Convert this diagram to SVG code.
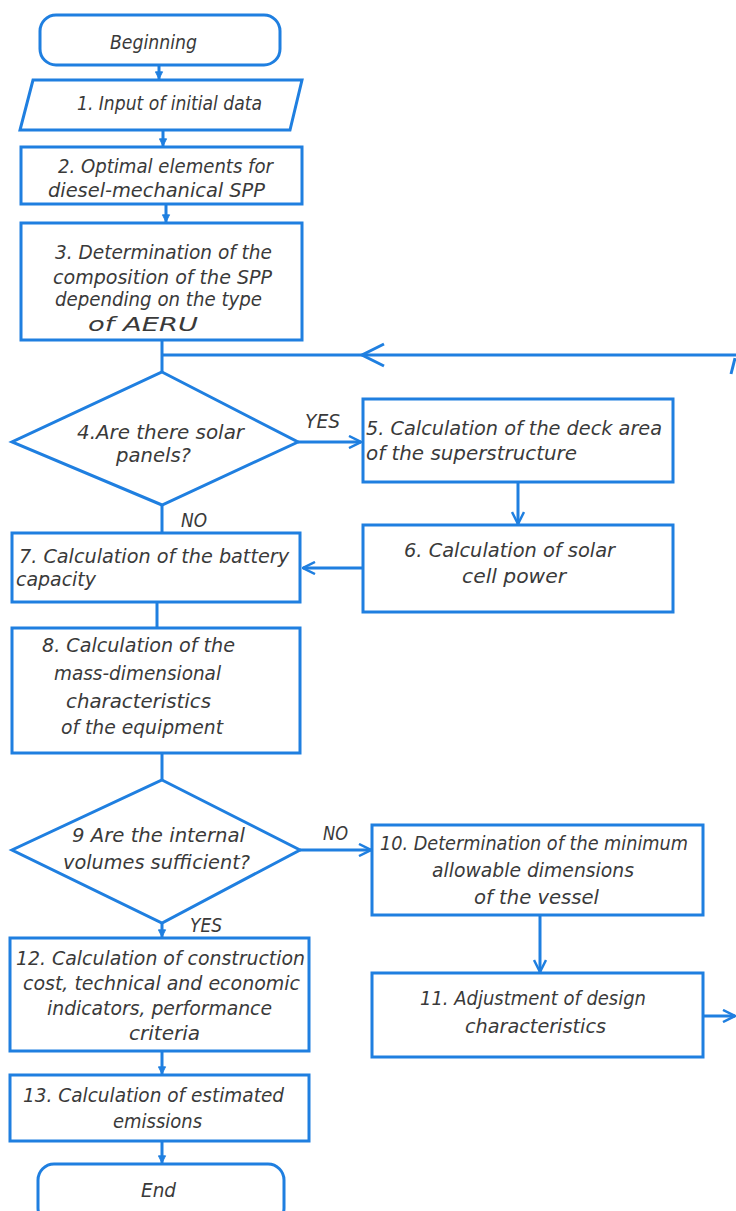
<svg xmlns="http://www.w3.org/2000/svg" width="736" height="1211" viewBox="0 0 736 1211">
<defs>
<style>
.n{fill:#fff;stroke:#1f7fe0;stroke-width:3}
.c{fill:none;stroke:#1f7fe0;stroke-width:3}
text{font-family:"DejaVu Sans Condensed","Liberation Sans Narrow","Liberation Sans",sans-serif;font-style:italic;font-size:20px;fill:#3a3a3a}
</style>
<marker id="v" viewBox="0 0 14 14" refX="13" refY="7" markerWidth="14" markerHeight="14" markerUnits="userSpaceOnUse" orient="auto">
<path d="M1,1 L13,7 L1,13" fill="none" stroke="#1f7fe0" stroke-width="2.5"/>
</marker>
<marker id="f" viewBox="0 0 10 10" refX="9" refY="5" markerWidth="9" markerHeight="9" markerUnits="userSpaceOnUse" orient="auto">
<path d="M1,1 L9,5 L1,9 Z" fill="#1f7fe0" stroke="#1f7fe0" stroke-width="1"/>
</marker>
</defs>
<rect width="736" height="1211" fill="#fff"/>
<g id="connectors">
<line class="c" x1="159" y1="64" x2="159" y2="79" marker-end="url(#f)"/>
<line class="c" x1="163" y1="130" x2="163" y2="146" marker-end="url(#f)"/>
<line class="c" x1="166" y1="204" x2="166" y2="222" marker-end="url(#f)"/>
<line class="c" x1="162" y1="340" x2="162" y2="372"/>
<line class="c" x1="736" y1="355" x2="162" y2="355"/>
<path class="c" d="M384,344 L362,355 L384,366"/>
<line class="c" x1="731" y1="374" x2="735" y2="358"/>
<line class="c" x1="298" y1="442" x2="361" y2="442" marker-end="url(#v)"/>
<line class="c" x1="518" y1="482" x2="518" y2="524" marker-end="url(#v)"/>
<line class="c" x1="363" y1="568" x2="303" y2="568" marker-end="url(#v)"/>
<line class="c" x1="162" y1="505" x2="162" y2="533"/>
<line class="c" x1="157" y1="602" x2="157" y2="628"/>
<line class="c" x1="162" y1="753" x2="162" y2="780"/>
<line class="c" x1="300" y1="850" x2="371" y2="850" marker-end="url(#v)"/>
<line class="c" x1="540" y1="915" x2="540" y2="972" marker-end="url(#v)"/>
<line class="c" x1="703" y1="1016" x2="735" y2="1016" marker-end="url(#v)"/>
<line class="c" x1="162" y1="923" x2="162" y2="937" marker-end="url(#f)"/>
<line class="c" x1="162" y1="1051" x2="162" y2="1074" marker-end="url(#f)"/>
<line class="c" x1="162" y1="1141" x2="162" y2="1163" marker-end="url(#f)"/>
<text x="305" y="428" textLength="35" lengthAdjust="spacingAndGlyphs">YES</text>
<text x="181" y="527" textLength="26" lengthAdjust="spacingAndGlyphs">NO</text>
<text x="323" y="840" textLength="25" lengthAdjust="spacingAndGlyphs">NO</text>
<text x="190" y="932" textLength="32" lengthAdjust="spacingAndGlyphs">YES</text>
</g>
<g id="n0">
<rect class="n" x="40" y="15" width="240" height="50" rx="16"/>
<text x="110" y="49" textLength="87" lengthAdjust="spacingAndGlyphs">Beginning</text>
</g>
<g id="n1">
<polygon class="n" points="33,80 302,80 290,130 20,130"/>
<text x="77" y="110" textLength="185" lengthAdjust="spacingAndGlyphs">1. Input of initial data</text>
</g>
<g id="n2">
<rect class="n" x="21" y="147" width="281" height="57"/>
<text x="58" y="173" textLength="215" lengthAdjust="spacingAndGlyphs">2. Optimal elements for</text>
<text x="48" y="197" textLength="217" lengthAdjust="spacingAndGlyphs">diesel-mechanical SPP</text>
</g>
<g id="n3">
<rect class="n" x="21" y="223" width="281" height="117"/>
<text x="55" y="259" textLength="217" lengthAdjust="spacingAndGlyphs">3. Determination of the</text>
<text x="53" y="284" textLength="219" lengthAdjust="spacingAndGlyphs">composition of the SPP</text>
<text x="55" y="306" textLength="207" lengthAdjust="spacingAndGlyphs">depending on the type</text>
<text x="88" y="331" textLength="110" lengthAdjust="spacingAndGlyphs">of AERU</text>
</g>
<g id="n4">
<polygon class="n" points="162,372 298,442 162,505 12,442"/>
<text x="77" y="439" textLength="167" lengthAdjust="spacingAndGlyphs">4.Are there solar</text>
<text x="116" y="462" textLength="75" lengthAdjust="spacingAndGlyphs">panels?</text>
</g>
<g id="n5">
<rect class="n" x="363" y="399" width="310" height="83"/>
<text x="366" y="435" textLength="296" lengthAdjust="spacingAndGlyphs">5. Calculation of the deck area</text>
<text x="366" y="460" textLength="211" lengthAdjust="spacingAndGlyphs">of the superstructure</text>
</g>
<g id="n6">
<rect class="n" x="363" y="525" width="310" height="87"/>
<text x="404" y="557" textLength="211" lengthAdjust="spacingAndGlyphs">6. Calculation of solar</text>
<text x="462" y="583" textLength="104" lengthAdjust="spacingAndGlyphs">cell power</text>
</g>
<g id="n7">
<rect class="n" x="12" y="533" width="288" height="69"/>
<text x="19" y="563" textLength="270" lengthAdjust="spacingAndGlyphs">7. Calculation of the battery</text>
<text x="16" y="586" textLength="80" lengthAdjust="spacingAndGlyphs">capacity</text>
</g>
<g id="n8">
<rect class="n" x="12" y="628" width="288" height="125"/>
<text x="42" y="652" textLength="193" lengthAdjust="spacingAndGlyphs">8. Calculation of the</text>
<text x="54" y="680" textLength="167" lengthAdjust="spacingAndGlyphs">mass-dimensional</text>
<text x="66" y="708" textLength="145" lengthAdjust="spacingAndGlyphs">characteristics</text>
<text x="61" y="734" textLength="162" lengthAdjust="spacingAndGlyphs">of the equipment</text>
</g>
<g id="n9">
<polygon class="n" points="162,780 300,850 162,923 12,850"/>
<text x="72" y="842" textLength="173" lengthAdjust="spacingAndGlyphs">9 Are the internal</text>
<text x="63" y="869" textLength="187" lengthAdjust="spacingAndGlyphs">volumes sufficient?</text>
</g>
<g id="n10">
<rect class="n" x="372" y="825" width="331" height="90"/>
<text x="380" y="850" textLength="308" lengthAdjust="spacingAndGlyphs">10. Determination of the minimum</text>
<text x="432" y="877" textLength="202" lengthAdjust="spacingAndGlyphs">allowable dimensions</text>
<text x="474" y="904" textLength="125" lengthAdjust="spacingAndGlyphs">of the vessel</text>
</g>
<g id="n11">
<rect class="n" x="372" y="973" width="331" height="84"/>
<text x="420" y="1005" textLength="226" lengthAdjust="spacingAndGlyphs">11. Adjustment of design</text>
<text x="465" y="1033" textLength="141" lengthAdjust="spacingAndGlyphs">characteristics</text>
</g>
<g id="n12">
<rect class="n" x="10" y="938" width="299" height="113"/>
<text x="16" y="965" textLength="289" lengthAdjust="spacingAndGlyphs">12. Calculation of construction</text>
<text x="23" y="990" textLength="277" lengthAdjust="spacingAndGlyphs">cost, technical and economic</text>
<text x="47" y="1015" textLength="225" lengthAdjust="spacingAndGlyphs">indicators, performance</text>
<text x="129" y="1040" textLength="71" lengthAdjust="spacingAndGlyphs">criteria</text>
</g>
<g id="n13">
<rect class="n" x="10" y="1075" width="299" height="66"/>
<text x="23" y="1102" textLength="261" lengthAdjust="spacingAndGlyphs">13. Calculation of estimated</text>
<text x="113" y="1128" textLength="89" lengthAdjust="spacingAndGlyphs">emissions</text>
</g>
<g id="n14">
<rect class="n" x="38" y="1164" width="246" height="60" rx="16"/>
<text x="141" y="1197" textLength="35" lengthAdjust="spacingAndGlyphs">End</text>
</g>
</svg>
